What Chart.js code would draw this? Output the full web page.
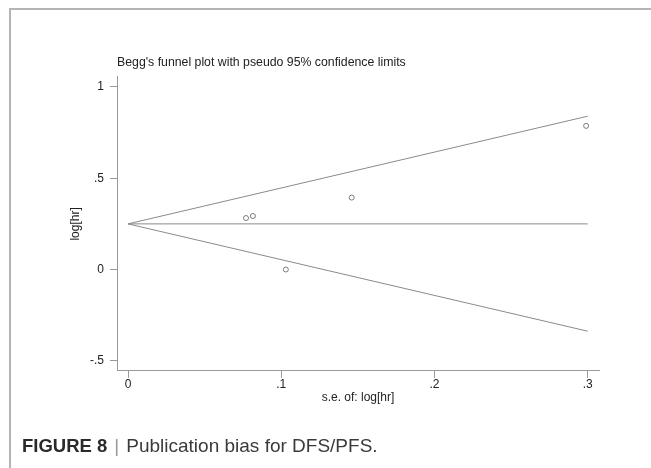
<!DOCTYPE html>
<html>
<head>
<meta charset="utf-8">
<script src="https://cdn.jsdelivr.net/npm/chart.js@4"></script>
<style>
  html, body { margin: 0; padding: 0; background: #fff; }
  #wrap { position: relative; width: 651px; height: 468px; overflow: hidden; }
  #frame { position: absolute; left: 9px; top: 8px; width: 660px; height: 480px;
           border-top: 2px solid #b4b4b4; border-left: 2px solid #b4b4b4; box-sizing: border-box; }
  #caption { position: absolute; left: 22px; top: 435px; font-family: "Liberation Sans", Arial, sans-serif;
             font-size: 19px; color: #3a3a3a; white-space: nowrap; }
  #caption b { color: #2a2a2a; font-size: 18.5px; }
  #caption .bar { color: #999; padding: 0 7px; font-weight: 300; }
  canvas { position: absolute; left: 0; top: 0; }
</style>
</head>
<body>
<div id="wrap">
  <div id="frame"></div>
  <canvas id="funnel" width="651" height="468"></canvas>
  <div id="caption"><b>FIGURE 8</b><span class="bar">|</span>Publication bias for DFS/PFS.</div>
</div>
<script>
// studies: standard error vs log hazard ratio
const studySE = [0.077, 0.0815, 0.103, 0.146, 0.299];
const studyLogHR = [0.282, 0.293, 0.0, 0.394, 0.787];

// pseudo 95% limits and pooled estimate (line end points)
const limitSE = [0, 0.3];
const upperLimit = [0.25, 0.84];
const lowerLimit = [0.25, -0.338];
const pooledLine = [0.25, 0.25];

const xTickValues = [0, 0.1, 0.2, 0.3];
const yTickValues = [-0.5, 0, 0.5, 1];

const font = "'Liberation Sans', Arial, sans-serif";
const lineColor = '#8a8a8a';

function toPoints(xs, ys) {
    return xs.map((x, i) => ({x: x, y: ys[i]}));
}

function stataLabel(v) {
    return String(v).replace(/^(-?)0\./, '$1.');
}

function lineSet(ys) {
    return {
        data: toPoints(limitSE, ys),
        showLine: true,
        borderColor: lineColor,
        borderWidth: 1,
        pointRadius: 0,
        fill: false
    };
}

new Chart(
    document.getElementById('funnel').getContext('2d'),
    {
        type: 'scatter',
        data: {
            datasets: [
                {
                    data: toPoints(studySE, studyLogHR),
                    pointStyle: 'circle',
                    pointRadius: 2.5,
                    backgroundColor: 'rgba(0,0,0,0)',
                    borderColor: '#7a7a7a',
                    borderWidth: 1
                },
                lineSet(upperLimit),
                lineSet(lowerLimit),
                lineSet(pooledLine)
            ]
        },
        options: {
            responsive: false,
            animation: false,
            devicePixelRatio: 1,
            layout: {
                padding: {left: 68, right: 52, top: 55, bottom: 63}
            },
            plugins: {
                legend: {display: false},
                tooltip: {enabled: false},
                title: {
                    display: true,
                    fullSize: false,
                    align: 'start',
                    text: "Begg's funnel plot with pseudo 95% confidence limits",
                    color: '#222',
                    font: {family: font, size: 12.3, weight: 'normal'},
                    padding: {top: 0, bottom: 7.2}
                }
            },
            scales: {
                x: {
                    type: 'linear',
                    min: -0.0072,
                    max: 0.3074,
                    afterBuildTicks: s => { s.ticks = xTickValues.map(v => ({value: v})); },
                    afterFit: s => { s.height = 34.2; },
                    grid: {drawOnChartArea: false, drawTicks: true, tickLength: 7, color: '#999'},
                    border: {color: '#999', width: 1},
                    ticks: {
                        color: '#222',
                        padding: 0,
                        maxRotation: 0,
                        font: {family: font, size: 12},
                        callback: v => stataLabel(v)
                    },
                    title: {
                        display: true,
                        text: 's.e. of: log[hr]',
                        color: '#222',
                        padding: 0,
                        font: {family: font, size: 12}
                    }
                },
                y: {
                    type: 'linear',
                    min: -0.555,
                    max: 1.055,
                    afterBuildTicks: s => { s.ticks = yTickValues.map(v => ({value: v})); },
                    afterFit: s => { s.width = 49; },
                    grid: {drawOnChartArea: false, drawTicks: true, tickLength: 7, color: '#999'},
                    border: {color: '#999', width: 1},
                    ticks: {
                        color: '#222',
                        padding: 6,
                        font: {family: font, size: 12},
                        callback: v => stataLabel(v)
                    },
                    title: {
                        display: true,
                        text: 'log[hr]',
                        color: '#222',
                        padding: 0,
                        font: {family: font, size: 12}
                    }
                }
            }
        }
    }
);
</script>
</body>
</html>
